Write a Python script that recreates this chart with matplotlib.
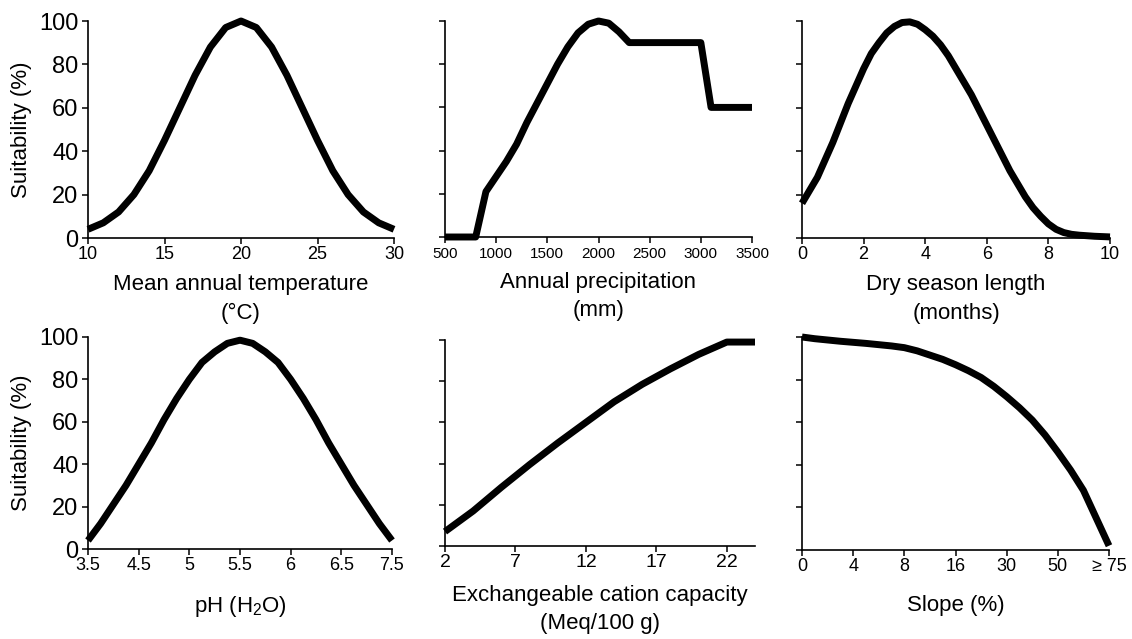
import numpy as np
import matplotlib
matplotlib.use("Agg")
import matplotlib.pyplot as plt

plt.rcParams['font.family'] = ['Liberation Sans', 'DejaVu Sans']
plt.rcParams['mathtext.fontset'] = 'custom'
plt.rcParams['mathtext.rm'] = 'Liberation Sans'
plt.rcParams['mathtext.it'] = 'Liberation Sans:italic'

# Mean annual temperature (°C)
temp_x = [10, 11, 12, 13, 14, 15, 16, 17, 18, 19, 20, 21, 22, 23, 24, 25, 26, 27, 28, 29, 30]
temp_y = [4, 7, 12, 20, 31, 45, 60, 75, 88, 97, 100, 97, 88, 75, 60, 45, 31, 20, 12, 7, 4]

# Annual precipitation (mm)
prec_x = [500, 800, 900, 1000, 1100, 1200, 1300, 1400, 1500, 1600, 1700, 1800, 1900,
          2000, 2100, 2200, 2300, 3000, 3100, 3500]
prec_y = [0, 0, 21, 28, 35, 43, 53, 62, 71, 80, 88, 94.5, 98.5, 100, 99, 95, 90, 90, 60, 60]

# Dry season length (months)
dry_x = [0, 0.25, 0.5, 0.75, 1, 1.25, 1.5, 1.75, 2, 2.25, 2.5, 2.75, 3, 3.25, 3.5, 3.75,
         4, 4.25, 4.5, 4.75, 5, 5.25, 5.5, 5.75, 6, 6.25, 6.5, 6.75, 7, 7.25, 7.5, 7.75,
         8, 8.25, 8.5, 8.75, 9, 9.5, 10]
dry_y = [16, 22, 28, 36, 44, 53, 62, 70, 78, 85, 90, 94.5, 97.5, 99.3, 99.6, 98.5,
         96, 93, 89, 84, 78, 72, 66, 59, 52, 45, 38, 31, 25, 19, 14, 10,
         6.5, 4, 2.5, 1.7, 1.3, 0.8, 0.5]

# pH (H2O): category positions 0..6
ph_labels = ['3.5', '4.5', '5', '5.5', '6', '6.5', '7.5']
ph_pos = [0, 0.25, 0.5, 0.75, 1, 1.25, 1.5, 1.75, 2, 2.25, 2.5, 2.75, 3,
          3.25, 3.5, 3.75, 4, 4.25, 4.5, 4.75, 5, 5.25, 5.5, 5.75, 6]
ph_y = [4, 12, 21, 30, 40, 50, 61, 71, 80, 88, 93, 97, 98.5,
        97, 93, 88, 80, 71, 61, 50, 40, 30, 21, 12, 4]

# Exchangeable cation capacity (Meq/100 g)
cec_x = [2, 4, 6, 8, 10, 12, 14, 16, 18, 20, 22, 24]
cec_y = [7, 17, 28.5, 39.5, 50, 60, 70, 78.5, 86, 93, 99, 99]

# Slope (%): category positions 0..6
slope_labels = ['0', '4', '8', '16', '30', '50', '≥ 75']
slope_pos = [0, 0.25, 0.5, 0.75, 1, 1.25, 1.5, 1.75, 2, 2.25, 2.5, 2.75, 3,
             3.25, 3.5, 3.75, 4, 4.25, 4.5, 4.75, 5, 5.25, 5.5, 5.75, 6]
slope_y = [100, 99.2, 98.6, 98, 97.5, 97, 96.4, 95.8, 95, 93.5, 91.5, 89.5, 87,
           84.2, 81, 76.8, 72, 66.8, 61, 54, 46, 37.5, 28, 15, 2]

W, H = 1132, 639
fig = plt.figure(figsize=(W / 100, H / 100), dpi=100)


def make_ax(x0, x1, y0, y1):
    return fig.add_axes([x0 / W, (H - y1) / H, (x1 - x0) / W, (y1 - y0) / H])


def style(ax, ylab):
    for s in ['top', 'right']:
        ax.spines[s].set_visible(False)
    for s in ['left', 'bottom']:
        ax.spines[s].set_linewidth(1.2)
    ax.set_ylim(0, 100)
    ax.set_yticks([0, 20, 40, 60, 80, 100])
    ax.tick_params(direction='out', length=4, width=1.1, labelsize=13, pad=2)
    if ylab:
        ax.tick_params(axis='y', labelsize=17, pad=3)
        ax.set_ylabel('Suitability (%)', fontsize=16)
        # right edge of the rotated label sits about 56 px left of the axis
        ax.yaxis.set_label_coords(-56 / ax.bbox.width, 0.5)
    else:
        ax.set_yticklabels([])


lw = 5
xlab = dict(fontsize=16, linespacing=1.45)

ax1 = make_ax(88, 394, 21, 238)
ax1.plot(temp_x, temp_y, color='black', lw=lw, clip_on=False, solid_capstyle='butt')
ax1.set_xlim(10, 30)
ax1.set_xticks([10, 15, 20, 25, 30])
style(ax1, True)
ax1.set_xlabel('Mean annual temperature\n(°C)', labelpad=8, **xlab)

ax2 = make_ax(445, 752, 21, 237)
ax2.plot(prec_x, prec_y, color='black', lw=lw, clip_on=False, solid_capstyle='butt')
ax2.set_xlim(500, 3500)
ax2.set_xticks([500, 1000, 1500, 2000, 2500, 3000, 3500])
style(ax2, False)
ax2.tick_params(axis='x', labelsize=11, pad=3)
ax2.set_xlabel('Annual precipitation\n(mm)', labelpad=8, **xlab)

ax3 = make_ax(802, 1110, 21, 238)
ax3.plot(dry_x, dry_y, color='black', lw=lw, clip_on=False, solid_capstyle='butt')
ax3.set_xlim(0, 10)
ax3.set_xticks([0, 2, 4, 6, 8, 10])
style(ax3, False)
ax3.set_xlabel('Dry season length\n(months)', labelpad=8, **xlab)

ax4 = make_ax(88, 392, 337, 549)
ax4.plot(ph_pos, ph_y, color='black', lw=lw, clip_on=False, solid_capstyle='butt')
ax4.set_xlim(0, 6)
ax4.set_xticks(range(7))
ax4.set_xticklabels(ph_labels)
style(ax4, True)
ax4.set_xlabel('pH (H$_2$O)', fontsize=16, labelpad=14)

ax5 = make_ax(445, 755, 340, 546)
ax5.plot(cec_x, cec_y, color='black', lw=lw, clip_on=False, solid_capstyle='butt')
ax5.set_xlim(2, 24)
ax5.set_xticks([2, 7, 12, 17, 22])
style(ax5, False)
ax5.tick_params(axis='x', labelsize=14)
ax5.set_xlabel('Exchangeable cation capacity\n(Meq/100 g)', labelpad=10, **xlab)

ax6 = make_ax(802, 1109, 337, 550)
ax6.plot(slope_pos, slope_y, color='black', lw=lw, clip_on=False, solid_capstyle='butt')
ax6.set_xlim(0, 6)
ax6.set_xticks(range(7))
ax6.set_xticklabels(slope_labels)
style(ax6, False)
ax6.set_xlabel('Slope (%)', fontsize=16, labelpad=14)

fig.savefig('out.png', dpi=100)
